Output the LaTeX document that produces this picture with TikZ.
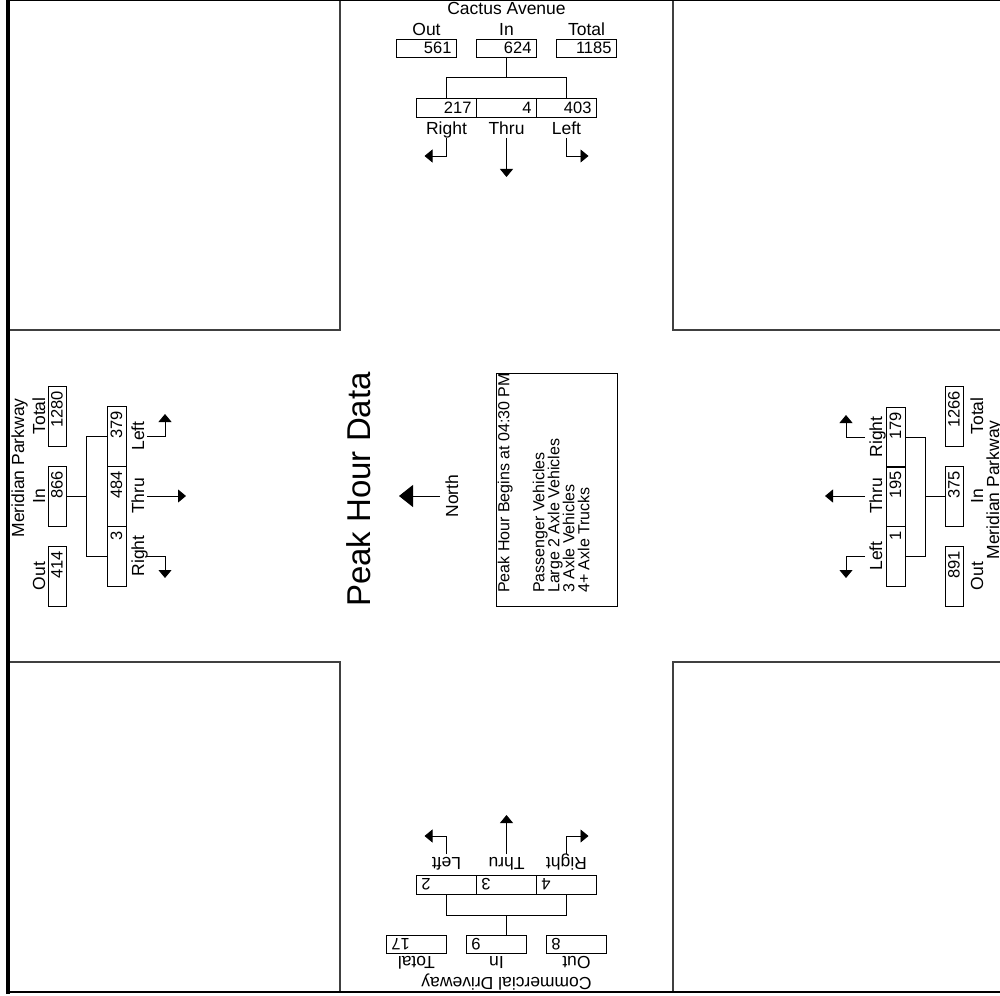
\documentclass[tikz,border=0pt]{standalone}
\usepackage{fontspec}
\setmainfont{Liberation Sans}
\usetikzlibrary{arrows.meta}
\newcommand\drawapproach[8]{%
  \node[lbl] (#1Name) at (\uName,15) {#2};
  \node[lbl] (#1OutL) at (\uOut,36) {Out};
  \node[lbl] (#1InL) at (\uIn,36) {In};
  \node[lbl] (#1TotL) at (\uTot,36) {Total};
  \node[iobox] (#1Out) at (\uOut,48) {#3};
  \node[iobox] (#1In) at (\uIn,48) {#4};
  \node[iobox] (#1Tot) at (\uTot,48) {#5};
  \node[mvbox] (#1R) at (-60,107.5) {#6};
  \node[mvbox] (#1T) at (0,107.5) {#7};
  \node[mvbox] (#1L) at (60,107.5) {#8};
  \node[lbl] (#1RL) at (-60,135) {Right};
  \node[lbl] (#1TL) at (0,135) {Thru};
  \node[lbl] (#1LL) at (60,135) {Left};
  \coordinate (#1J0) at (0,57);
  \coordinate (#1J) at (0,77);
  \coordinate (#1JR) at (-60,77);
  \coordinate (#1JL) at (60,77);
  \draw[conn] (#1J0) -- (#1J);
  \draw[conn] (#1R.north) -- (#1JR) -- (#1JL) -- (#1L.north);
  \coordinate (#1Ra) at (-60,138);
  \coordinate (#1Rb) at (-60,156);
  \coordinate (#1Rc) at (-82,156);
  \draw[arr] (#1Ra) -- (#1Rb) -- (#1Rc);
  \coordinate (#1Ta) at (0,138);
  \coordinate (#1Tb) at (0,177);
  \draw[arr] (#1Ta) -- (#1Tb);
  \coordinate (#1La) at (60,138);
  \coordinate (#1Lb) at (60,156);
  \coordinate (#1Lc) at (82,156);
  \draw[arr] (#1La) -- (#1Lb) -- (#1Lc);
}
\begin{document}
\begin{tikzpicture}[x=1pt,y=-1pt,
  lbl/.style={font=\fontsize{17.5}{19}\selectfont, inner sep=0pt, anchor=base},
  nums/.style={align=right},
  iobox/.style={draw, line width=0.9pt, font=\fontsize{16.5}{18}\selectfont,
    minimum height=18pt, inner ysep=0pt, inner xsep=5pt, text width=50pt, nums},
  mvbox/.style={iobox, minimum height=19pt},
  conn/.style={line width=0.9pt},
  arr/.style={line width=0.9pt, -{Triangle[length=8pt,width=13pt]}},
  block/.style={draw=black!75, line width=1.3pt},
]
\useasboundingbox (0,0) rectangle (1000,995);

% corner blocks
\draw[block] (9,0) rectangle (340,330);
\draw[block] (673,0) rectangle (1010,330);
\draw[block] (9,662) rectangle (340,992);
\draw[block] (673,662) rectangle (1010,992);

% frame
\draw[line width=4pt] (8,0) -- (8,993.5);
\draw[line width=1.5pt] (8,0.75) -- (1000,0.75);
\draw[line width=2.5pt] (8,992) -- (1000,992);

% top approach
\begin{scope}[shift={(506.5,0)}]
  \def\uName{0}\def\uOut{-80}\def\uIn{0}\def\uTot{80}
  \drawapproach{t}{Cactus Avenue}{561}{624}{1185}{217}{4}{403}
\end{scope}

% left approach
\begin{scope}[shift={(9,496)}, rotate=90, transform shape]
  \def\uName{28}\def\uOut{-80}\def\uIn{0}\def\uTot{80}
  \drawapproach{w}{Meridian Parkway}{414}{866}{1280}{3}{484}{379}
\end{scope}

% right approach
\node[lbl, rotate=90] (eName) at (999,490) {Meridian Parkway};
\node[lbl, rotate=90] (eOutL) at (983,576) {Out};
\node[lbl, rotate=90] (eInL) at (983,496) {In};
\node[lbl, rotate=90] (eTotL) at (983,416) {Total};
\node[iobox, rotate=90] (eOut) at (954,576) {891};
\node[iobox, rotate=90] (eIn) at (954,496) {375};
\node[iobox, rotate=90] (eTot) at (954,416) {1266};
\node[mvbox, rotate=90] (eR) at (895.5,437) {179};
\node[mvbox, rotate=90] (eT) at (895.5,496) {195};
\node[mvbox, rotate=90] (eL) at (895.5,556) {1};
\node[lbl, rotate=90] (eRL) at (882,437) {Right};
\node[lbl, rotate=90] (eTL) at (882,496) {Thru};
\node[lbl, rotate=90] (eLL) at (882,556) {Left};
\coordinate (eJ) at (925,496);
\coordinate (eJR) at (925,437);
\coordinate (eJL) at (925,556);
\draw[conn] (eIn.north) -- (eJ);
\draw[conn] (eR.south) -- (eJR) -- (eJL) -- (eL.south);
\coordinate (eRa) at (865,437);
\coordinate (eRb) at (846,437);
\coordinate (eRc) at (846,415);
\draw[arr] (eRa) -- (eRb) -- (eRc);
\coordinate (eTa) at (865,496);
\coordinate (eTb) at (825,496);
\draw[arr] (eTa) -- (eTb);
\coordinate (eLa) at (865,556);
\coordinate (eLb) at (846,556);
\coordinate (eLc) at (846,578);
\draw[arr] (eLa) -- (eLb) -- (eLc);

% bottom approach
\begin{scope}[shift={(506.5,992)}, rotate=180, transform shape]
  \def\uName{0}\def\uOut{-70}\def\uIn{10}\def\uTot{90}
  \drawapproach{s}{Commercial Driveway}{8}{9}{17}{4}{3}{2}
\end{scope}

% centre
\node[font=\fontsize{33}{36}\selectfont, rotate=90, inner sep=0pt] (title) at (358.5,489.5) {Peak Hour Data};
\node[lbl, rotate=90] (north) at (458,496) {North};
\coordinate (nA) at (440,496);
\coordinate (nB) at (399,496);
\draw[line width=0.9pt, -{Triangle[length=14pt,width=22pt]}] (nA) -- (nB);

\node[draw, line width=0.9pt, minimum width=121pt, minimum height=233pt, inner sep=0pt] (legbox) at (556.5,489.5) {};
\node[rotate=90, anchor=north west, align=left, inner sep=0pt,
  font=\fontsize{16}{15}\selectfont] (legtext) at (497.5,593)
  {Peak Hour Begins at 04:30 PM\\[20pt]Passenger Vehicles\\Large 2 Axle Vehicles\\3 Axle Vehicles\\4+ Axle Trucks};
\end{tikzpicture}
\end{document}
